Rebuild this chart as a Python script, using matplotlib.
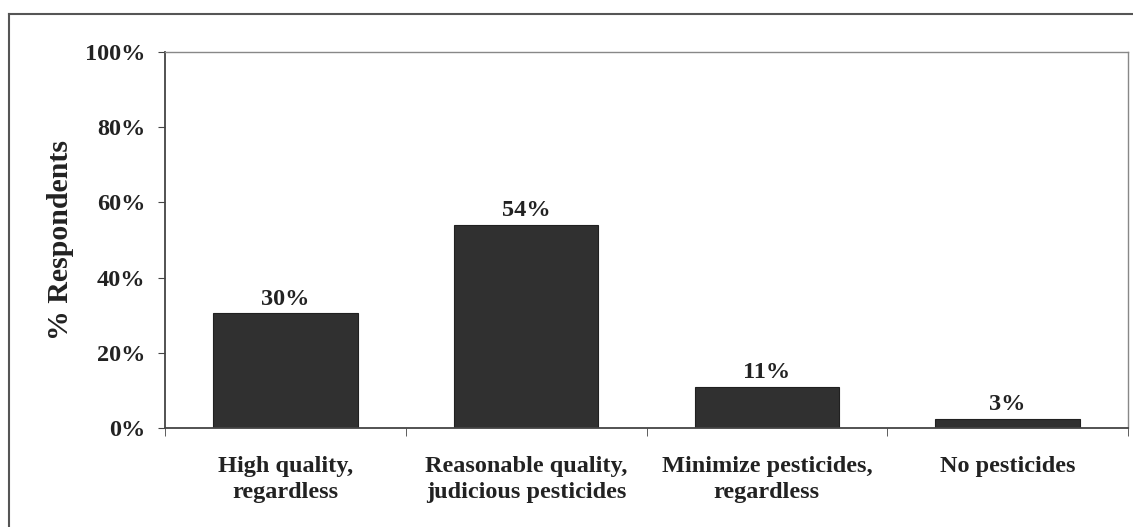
import matplotlib
matplotlib.use("Agg")
import matplotlib.pyplot as plt
from matplotlib.lines import Line2D

categories = ["High quality,\nregardless", "Reasonable quality,\njudicious pesticides",
              "Minimize pesticides,\nregardless", "No pesticides"]
values = [30.5, 54, 11, 2.5]
labels = ["30%", "54%", "11%", "3%"]
yticks = [0, 20, 40, 60, 80, 100]
ytick_labels = ["0%", "20%", "40%", "60%", "80%", "100%"]

plt.rcParams['font.family'] = ['Liberation Serif', 'DejaVu Serif']
plt.rcParams['font.weight'] = 'bold'

W, H = 1133, 527
fig = plt.figure(figsize=(W / 100, H / 100), dpi=100)
fig.patch.set_facecolor('white')

# outer frame lines
fig.add_artist(Line2D([9 / W, 9 / W], [0, 1 - 14 / H], color='#555555', lw=1.5))
fig.add_artist(Line2D([9 / W, 1], [1 - 14 / H, 1 - 14 / H], color='#555555', lw=1.5))

ax = fig.add_axes([165 / W, 1 - 428 / H, (1128 - 165) / W, (428 - 52) / H])
x = list(range(len(categories)))
ax.bar(x, values, width=0.6, color='#303030', edgecolor='#202020', linewidth=0.8)
for xi, v, lab in zip(x, values, labels):
    ax.text(xi, v + 2.3, lab, ha='center', va='baseline', fontsize=17.5, fontweight='bold', color='#222222')

ax.set_xlim(-0.5, len(categories) - 0.5)
ax.set_ylim(0, 100)
ax.set_yticks(yticks)
ax.set_yticklabels(ytick_labels, fontsize=17.5, fontweight='bold', color='#222222')
ax.set_xticks(x)
ax.set_xticklabels(categories, fontsize=17.5, fontweight='bold', color='#222222', linespacing=1.3)
ax.tick_params(axis='x', length=0, pad=20)
ax.set_xticks([i - 0.5 for i in range(len(categories) + 1)], minor=True)
ax.tick_params(axis='x', which='minor', length=6, direction='out', color='#444444')
ax.tick_params(axis='y', length=5, direction='out', color='#444444', pad=9)
ax.set_ylabel("% Respondents", fontsize=21.5, fontweight='bold', color='#222222', labelpad=8)

for side in ['left', 'bottom']:
    ax.spines[side].set_color('#444444')
    ax.spines[side].set_linewidth(1.3)
for side in ['top', 'right']:
    ax.spines[side].set_color('#888888')
    ax.spines[side].set_linewidth(1.0)

fig.savefig("out.png", dpi=100)
